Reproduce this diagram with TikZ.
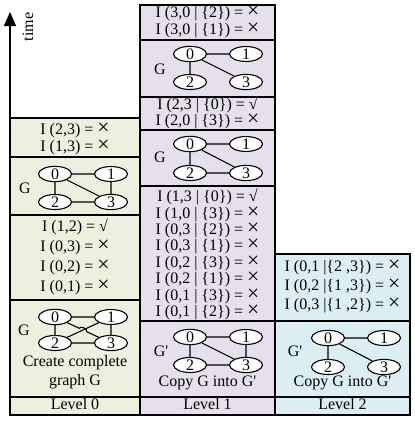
\documentclass[tikz,border=0pt]{standalone}
\usepackage{fontspec}
\setmainfont{Liberation Serif}
\usetikzlibrary{shapes.geometric,arrows.meta,calc}

\definecolor{lvlgreen}{RGB}{235,241,222}
\definecolor{lvlpurple}{RGB}{229,224,236}
\definecolor{lvlblue}{RGB}{219,238,243}

\newcommand{\nay}{\scalebox{1.35}{×}}
\newcommand{\yea}{√}
\newcommand{\gp}{G\textquotesingle}

% four vertices: prefix, x of left column, y of top row, y of bottom row
\newcommand{\quadnodes}[4]{%
  \node[vtx] (#10) at (#2,#3) {0};
  \node[vtx] (#11) at (#2+56,#3) {1};
  \node[vtx] (#12) at (#2,#4) {2};
  \node[vtx] (#13) at (#2+56,#4) {3};
}

\begin{document}
\begin{tikzpicture}[x=1pt, y=-1pt,
    cell/.style={draw, line width=1.3pt},
    cellg/.style={cell, fill=lvlgreen},
    cellp/.style={cell, fill=lvlpurple},
    cellb/.style={cell, fill=lvlblue},
    txt/.style={font=\fontsize{16}{19}\selectfont, inner sep=0pt},
    row/.style={txt, text height=10pt, text depth=2.5pt},
    vtx/.style={ellipse, draw, line width=1.1pt, fill=white, minimum width=33pt, minimum height=14pt, inner sep=0pt, font=\fontsize{16}{16}\selectfont},
    edge/.style={line width=1.1pt}]
  \useasboundingbox (0,0) rectangle (415,421);

  % time axis
  \coordinate (tbase) at (10,118);
  \coordinate (ttip) at (10,12);
  \draw[line width=1.3pt, -{Triangle[length=14pt,width=12pt]}] (tbase) -- (ttip);
  \node[txt, rotate=90] (time) at (28,27) {time};

  % level 0
  \draw[cellg] (10,118) rectangle (140,157);
  \draw[cellg] (10,157) rectangle (140,215);
  \draw[cellg] (10,215) rectangle (140,300);
  \draw[cellg] (10,300) rectangle (140,397);
  \draw[cellg] (10,397) rectangle (140,415);
  \node[row] (a1) at (75,131) {I (2,3) = \nay};
  \node[row] (a2) at (75,148) {I (1,3) = \nay};
  \node[row] (a3) at (75,228) {I (1,2) = \yea};
  \node[row] (a4) at (75,248) {I (0,3) = \nay};
  \node[row] (a5) at (75,268) {I (0,2) = \nay};
  \node[row] (a6) at (75,288) {I (0,1) = \nay};
  \node[txt, align=center] (acreate) at (75,372) {Create complete\\graph G};
  \node[row] (lvl0) at (75,406) {Level 0};

  \node[txt] (ga) at (25,188) {G};
  \quadnodes{ga}{55}{174}{202}
  \draw[edge] (ga0) -- (ga1) (ga0) -- (ga2) (ga1) -- (ga3) (ga2) -- (ga3) (ga0) -- (ga3);

  \node[txt] (gb) at (24,330) {G};
  \quadnodes{gb}{55}{317}{343}
  \coordinate (gbx) at ($(gb0)!.5!(gb3)$);
  \draw[edge] (gb0) -- (gb1) (gb0) -- (gb2) (gb1) -- (gb3) (gb2) -- (gb3) (gb1) -- (gb2);
  \draw[edge] (gb0) -- ($(gbx)!4pt!(gb0)$) to[bend left=90] ($(gbx)!4pt!(gb3)$) -- (gb3);

  % level 1
  \draw[cellp] (140,5) rectangle (275,40);
  \draw[cellp] (140,40) rectangle (275,97);
  \draw[cellp] (140,97) rectangle (275,130);
  \draw[cellp] (140,130) rectangle (275,186);
  \draw[cellp] (140,186) rectangle (275,321);
  \draw[cellp] (140,321) rectangle (275,397);
  \draw[cellp] (140,397) rectangle (275,415);
  \node[row] (b1) at (207.5,14) {I (3,0 | \{2\}) = \nay};
  \node[row] (b2) at (207.5,31) {I (3,0 | \{1\}) = \nay};
  \node[row] (b3) at (207.5,106) {I (2,3 | \{0\}) = \yea};
  \node[row] (b4) at (207.5,122) {I (2,0 | \{3\}) = \nay};
  \node[row] (c1) at (207.5,198) {I (1,3 | \{0\}) = \yea};
  \node[row] (c2) at (207.5,214.4) {I (1,0 | \{3\}) = \nay};
  \node[row] (c3) at (207.5,230.8) {I (0,3 | \{2\}) = \nay};
  \node[row] (c4) at (207.5,247.2) {I (0,3 | \{1\}) = \nay};
  \node[row] (c5) at (207.5,263.6) {I (0,2 | \{3\}) = \nay};
  \node[row] (c6) at (207.5,280) {I (0,2 | \{1\}) = \nay};
  \node[row] (c7) at (207.5,296.4) {I (0,1 | \{3\}) = \nay};
  \node[row] (c8) at (207.5,312.8) {I (0,1 | \{2\}) = \nay};
  \node[row] (bcopy) at (207.5,383) {Copy G into \gp};
  \node[row] (lvl1) at (207.5,406) {Level 1};

  \node[txt] (gc) at (160,69) {G};
  \quadnodes{gc}{190}{54}{82}
  \draw[edge] (gc0) -- (gc1) (gc0) -- (gc2) (gc0) -- (gc3);

  \node[txt] (gd) at (160,157) {G};
  \quadnodes{gd}{190}{144}{173}
  \draw[edge] (gd0) -- (gd1) (gd0) -- (gd2) (gd0) -- (gd3) (gd2) -- (gd3);

  \node[txt] (ge) at (161,351) {\gp};
  \quadnodes{ge}{190}{337}{365}
  \draw[edge] (ge0) -- (ge1) (ge0) -- (ge2) (ge1) -- (ge3) (ge2) -- (ge3) (ge0) -- (ge3);

  % level 2
  \draw[cellb] (275,254) rectangle (410,321);
  \draw[cellb] (275,321) rectangle (410,397);
  \draw[cellb] (275,397) rectangle (410,415);
  \node[row] (d1) at (342.5,268) {I (0,1 |\{2 ,3\}) = \nay};
  \node[row] (d2) at (342.5,287) {I (0,2 |\{1 ,3\}) = \nay};
  \node[row] (d3) at (342.5,306) {I (0,3 |\{1 ,2\}) = \nay};
  \node[row] (dcopy) at (342.5,383) {Copy G into \gp};
  \node[row] (lvl2) at (342.5,406) {Level 2};

  \node[txt] (gf) at (295,351) {\gp};
  \quadnodes{gf}{328}{338}{367}
  \draw[edge] (gf0) -- (gf1) (gf0) -- (gf2) (gf0) -- (gf3);
\end{tikzpicture}
\end{document}
